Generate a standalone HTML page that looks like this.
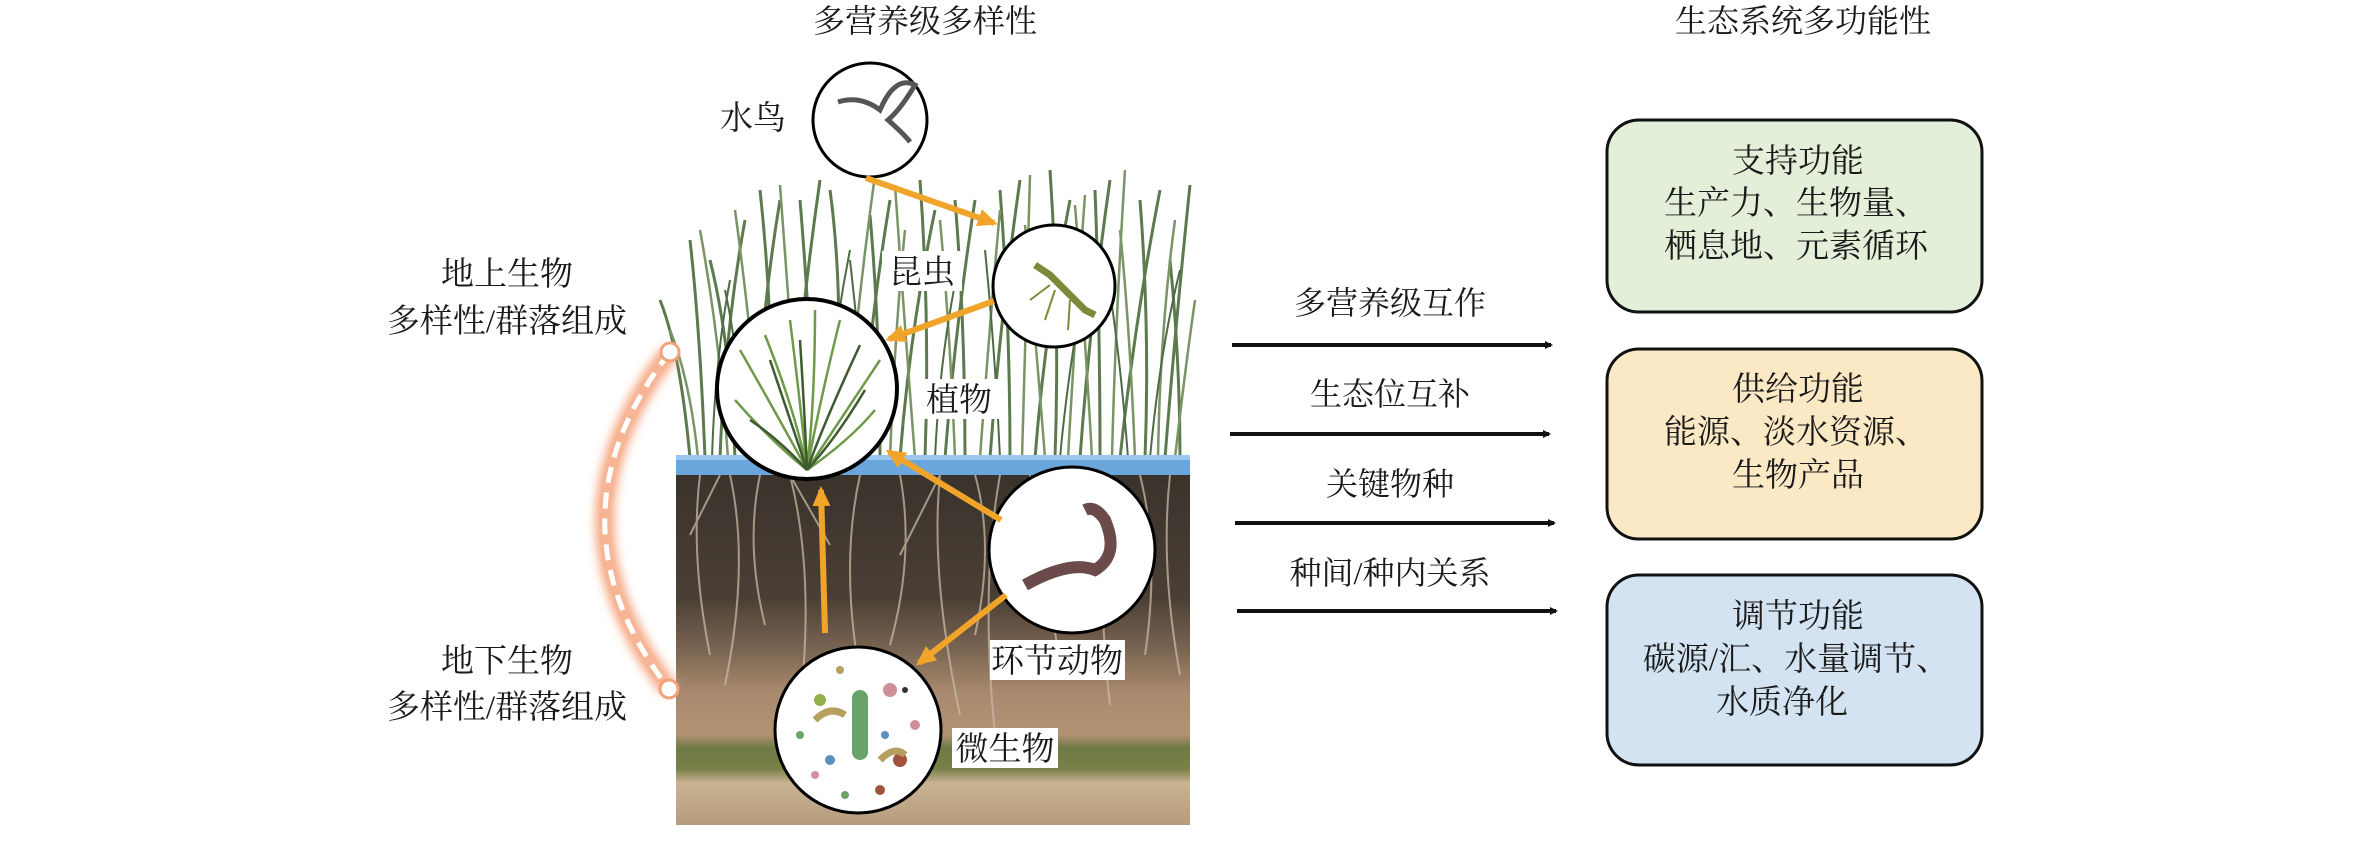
<!DOCTYPE html>
<html><head><meta charset="utf-8">
<style>
html,body{margin:0;padding:0;background:#fff;}
body{width:2362px;height:845px;overflow:hidden;position:relative;}
svg{position:absolute;left:0;top:0;}
text{font-family:"Liberation Serif","Noto Serif CJK SC",serif;fill:#1a1a1a;}
</style></head>
<body>
<svg width="2362" height="845" viewBox="0 0 2362 845" xmlns="http://www.w3.org/2000/svg">
<defs>
<linearGradient id="soil" x1="0" y1="0" x2="0" y2="1">
<stop offset="0" stop-color="#3a332c"/>
<stop offset="0.35" stop-color="#4a3f35"/>
<stop offset="0.5" stop-color="#7a6552"/>
<stop offset="0.62" stop-color="#a88a6e"/>
<stop offset="0.74" stop-color="#b49274"/>
<stop offset="0.78" stop-color="#6f7a45"/>
<stop offset="0.84" stop-color="#7a8048"/>
<stop offset="0.88" stop-color="#c9b393"/>
<stop offset="1" stop-color="#b59c7c"/>
</linearGradient>
<filter id="glow" x="-50%" y="-20%" width="200%" height="140%"><feGaussianBlur stdDeviation="5"/></filter>
<marker id="ah" markerWidth="8" markerHeight="8" refX="6" refY="4" orient="auto" markerUnits="userSpaceOnUse"><path d="M0,0 L8,4 L0,8z" fill="#111"/></marker>
<marker id="oa" markerWidth="22" markerHeight="22" refX="16" refY="11" orient="auto" markerUnits="userSpaceOnUse"><path d="M0,2 L20,11 L0,20z" fill="#f0a52a"/></marker>
</defs>

<text x="925" y="32" font-size="32" text-anchor="middle">多营养级多样性</text>
<text x="1803" y="32" font-size="32" text-anchor="middle">生态系统多功能性</text>

<!-- grass -->
<g fill="none" stroke-width="3">
<g stroke="#5d7a4e">
<path d="M690,458 Q680,350 660,300"/><path d="M705,458 Q700,330 690,240"/><path d="M720,458 Q725,330 745,220"/>
<path d="M735,458 Q730,340 710,260"/><path d="M755,458 Q760,320 780,200"/><path d="M770,458 Q775,330 760,190"/>
<path d="M790,458 Q800,320 820,180"/><path d="M815,458 Q810,320 800,200"/><path d="M835,458 Q845,300 830,190"/>
<path d="M860,458 Q870,320 890,200"/><path d="M880,458 Q880,330 870,215"/><path d="M900,458 Q910,330 935,210"/>
<path d="M925,458 Q930,320 920,180"/><path d="M945,458 Q955,330 975,200"/><path d="M965,458 Q965,320 955,200"/>
<path d="M990,458 Q1000,320 1020,180"/><path d="M1010,458 Q1010,320 1000,190"/><path d="M1035,458 Q1045,330 1070,200"/>
<path d="M1055,458 Q1060,320 1050,170"/><path d="M1080,458 Q1090,320 1110,180"/><path d="M1100,458 Q1100,320 1095,190"/>
<path d="M1120,458 Q1135,320 1160,190"/><path d="M1145,458 Q1150,330 1140,200"/><path d="M1165,458 Q1175,330 1190,185"/>
<path d="M1180,458 Q1180,360 1170,260"/>
</g>
<g stroke="#7a9466" stroke-width="2.5">
<path d="M698,458 Q690,380 670,330"/><path d="M728,458 Q720,340 700,230"/><path d="M762,458 Q750,320 735,210"/>
<path d="M800,458 Q790,320 780,185"/><path d="M845,458 Q855,320 875,175"/><path d="M890,458 Q895,330 905,230"/>
<path d="M915,458 Q905,330 895,185"/><path d="M955,458 Q950,330 940,220"/><path d="M980,458 Q990,320 1000,210"/>
<path d="M1022,458 Q1025,330 1030,175"/><path d="M1045,458 Q1035,330 1025,225"/><path d="M1068,458 Q1075,330 1085,195"/>
<path d="M1092,458 Q1085,330 1075,205"/><path d="M1112,458 Q1115,330 1125,170"/><path d="M1135,458 Q1130,330 1120,230"/>
<path d="M1158,458 Q1160,330 1175,220"/><path d="M1175,458 Q1185,370 1195,300"/>
</g>
<g stroke="#4e6b45" stroke-width="2">
<path d="M712,458 Q715,360 730,280"/><path d="M745,458 Q740,360 725,290"/><path d="M825,458 Q830,350 850,250"/>
<path d="M870,458 Q860,350 850,260"/><path d="M935,458 Q940,350 960,260"/><path d="M1000,458 Q995,350 985,250"/>
<path d="M1060,458 Q1070,350 1090,260"/><path d="M1128,458 Q1120,350 1105,260"/><path d="M1150,458 Q1160,350 1180,270"/>
</g>
</g>
<rect x="676" y="475" width="514" height="350" fill="url(#soil)"/>
<rect x="676" y="455" width="514" height="20" fill="#6aa6dc"/>
<rect x="676" y="455" width="514" height="5" fill="#9cc8ef"/>
<g fill="none" stroke="#c9b9a5" stroke-width="2" opacity="0.75">
<path d="M700,475 q-10,80 10,180"/><path d="M730,475 q20,90 -5,210"/><path d="M760,475 q-15,70 5,150"/>
<path d="M790,475 q25,100 10,230"/><path d="M860,475 q-20,90 0,200"/><path d="M900,475 q15,80 -10,170"/>
<path d="M940,475 q-10,100 20,240"/><path d="M975,475 q20,70 0,160"/><path d="M1000,475 q-20,110 -5,260"/>
<path d="M1030,475 q15,90 30,190"/><path d="M1110,475 q-15,100 0,230"/><path d="M1140,475 q20,80 5,180"/>
<path d="M1170,475 q-10,90 10,200"/><path d="M720,475 l-30,60 M790,475 l40,70 M940,475 l-40,80 M1110,475 l40,60"/>
</g>

<text x="507" y="285" font-size="33" text-anchor="middle">地上生物</text>
<text x="507" y="332" font-size="33" text-anchor="middle">多样性/群落组成</text>
<text x="507" y="672" font-size="33" text-anchor="middle">地下生物</text>
<text x="507" y="718" font-size="33" text-anchor="middle">多样性/群落组成</text>

<path d="M670,352 Q540,520 669,689" fill="none" stroke="#f4a27a" stroke-width="18" filter="url(#glow)"/>
<path d="M670,352 Q540,520 669,689" fill="none" stroke="#f7b595" stroke-width="10"/>
<path d="M670,352 Q540,520 669,689" fill="none" stroke="#fff" stroke-width="5" stroke-dasharray="16,10"/>
<circle cx="670" cy="352" r="9" fill="#fff" stroke="#f4a27a" stroke-width="3"/>
<circle cx="669" cy="689" r="9" fill="#fff" stroke="#f4a27a" stroke-width="3"/>

<circle cx="870" cy="120" r="57" fill="#fff" stroke="#000" stroke-width="3"/>
<path d="M838,102 Q860,95 880,110 Q895,75 915,85 Q900,110 888,120 Q905,135 910,142" fill="none" stroke="#555" stroke-width="5"/>
<circle cx="1054" cy="286" r="61" fill="#fff" stroke="#000" stroke-width="3"/>
<path d="M1035,265 L1050,275 L1085,310 L1095,315" fill="none" stroke="#7d8a3a" stroke-width="7"/>
<path d="M1030,300 L1050,285 M1045,320 L1055,290 M1070,300 L1068,330" stroke="#7d8a3a" stroke-width="2"/>
<circle cx="807" cy="389" r="90" fill="#fff" stroke="#000" stroke-width="4"/>
<g fill="none" stroke-width="2.5">
<g stroke="#6f9a4a">
<path d="M807,470 Q780,420 740,350"/><path d="M807,470 Q800,400 790,320"/><path d="M807,470 Q820,400 840,320"/>
<path d="M807,470 Q840,420 880,360"/><path d="M807,470 Q770,440 735,400"/><path d="M807,470 Q850,440 875,410"/>
<path d="M807,470 Q795,410 765,335"/><path d="M807,470 Q815,400 815,310"/>
</g>
<g stroke="#3f5a30">
<path d="M807,470 Q790,420 770,360"/><path d="M807,470 Q825,420 860,345"/><path d="M807,470 Q780,440 750,420"/>
<path d="M807,470 Q805,420 800,340"/><path d="M807,470 Q835,440 865,390"/>
</g>
</g>
<circle cx="1072" cy="550" r="83" fill="#fff" stroke="#000" stroke-width="3"/>
<path d="M1025,585 Q1070,560 1095,570 Q1120,555 1105,520 Q1095,505 1085,510" fill="none" stroke="#6b4b4a" stroke-width="12"/>
<circle cx="858" cy="730" r="83" fill="#fff" stroke="#000" stroke-width="3"/>
<g>
<rect x="852" y="690" width="16" height="70" rx="8" fill="#6aa36a"/>
<circle cx="820" cy="700" r="6" fill="#8fb04a"/><circle cx="890" cy="690" r="7" fill="#d08f9a"/>
<circle cx="830" cy="760" r="5" fill="#5a8fc0"/><circle cx="900" cy="760" r="7" fill="#a0523d"/>
<circle cx="800" cy="735" r="4" fill="#6aa36a"/><circle cx="915" cy="725" r="5" fill="#d08f9a"/>
<circle cx="840" cy="670" r="4" fill="#b5a060"/><circle cx="880" cy="790" r="5" fill="#a0523d"/>
<circle cx="845" cy="795" r="4" fill="#6aa36a"/><circle cx="885" cy="735" r="4" fill="#5a8fc0"/>
<circle cx="815" cy="775" r="4" fill="#d08f9a"/><circle cx="905" cy="690" r="3" fill="#333"/>
<path d="M815,720 Q830,705 845,715" stroke="#b5a060" stroke-width="7" fill="none"/>
<path d="M880,760 Q895,745 905,755" stroke="#b5a060" stroke-width="7" fill="none"/>
</g>

<g font-size="33">
<rect x="718" y="97" width="68" height="40" fill="#fff"/><text x="753" y="129" text-anchor="middle">水鸟</text>
<rect x="882" y="251" width="80" height="40" fill="#fff"/><text x="922" y="283" text-anchor="middle">昆虫</text>
<rect x="918" y="379" width="82" height="40" fill="#fff"/><text x="959" y="411" text-anchor="middle">植物</text>
<rect x="990" y="640" width="135" height="40" fill="#fff"/><text x="1057" y="672" text-anchor="middle">环节动物</text>
<rect x="952" y="728" width="106" height="40" fill="#fff"/><text x="1005" y="760" text-anchor="middle">微生物</text>
</g>

<g stroke="#f0a52a" stroke-width="6" marker-end="url(#oa)">
<line x1="866" y1="178" x2="994" y2="223"/>
<line x1="994" y1="301" x2="889" y2="339"/>
<line x1="1001" y1="520" x2="889" y2="452"/>
<line x1="825" y1="633" x2="821" y2="490"/>
<line x1="1006" y1="595" x2="919" y2="663"/>
</g>

<g font-size="32">
<text x="1390" y="314" text-anchor="middle">多营养级互作</text>
<text x="1390" y="405" text-anchor="middle">生态位互补</text>
<text x="1390" y="495" text-anchor="middle">关键物种</text>
<text x="1390" y="584" text-anchor="middle">种间/种内关系</text>
</g>
<g stroke="#111" stroke-width="4" marker-end="url(#ah)">
<line x1="1232" y1="345" x2="1551" y2="345"/>
<line x1="1230" y1="434" x2="1549" y2="434"/>
<line x1="1235" y1="523" x2="1554" y2="523"/>
<line x1="1237" y1="611" x2="1556" y2="611"/>
</g>

<rect x="1607" y="120" width="375" height="192" rx="32" fill="#e3efd9" stroke="#111" stroke-width="3"/>
<rect x="1607" y="349" width="375" height="190" rx="32" fill="#fbe8c5" stroke="#111" stroke-width="3"/>
<rect x="1607" y="575" width="375" height="190" rx="32" fill="#d3e3f1" stroke="#111" stroke-width="3"/>
<g font-size="33" text-anchor="middle">
<text x="1798" y="172">支持功能</text>
<text x="1796" y="214">生产力、生物量、</text>
<text x="1796" y="257">栖息地、元素循环</text>
<text x="1798" y="400">供给功能</text>
<text x="1796" y="443">能源、淡水资源、</text>
<text x="1798" y="486">生物产品</text>
<text x="1798" y="627">调节功能</text>
<text x="1796" y="670">碳源/汇、水量调节、</text>
<text x="1782" y="713">水质净化</text>
</g>
</svg>
</body></html>
